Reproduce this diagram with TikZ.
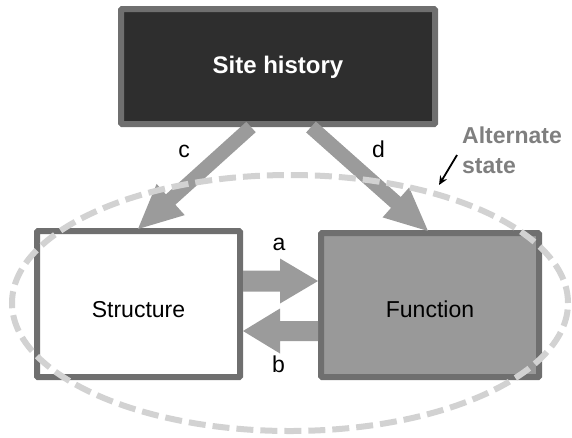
\documentclass[tikz,border=0pt]{standalone}
\usepackage{fontspec}
\setmainfont{Liberation Sans}
\usetikzlibrary{calc,arrows.meta}
\definecolor{boxborder}{HTML}{6F6F6F}
\definecolor{shfill}{HTML}{2E2E2E}
\definecolor{fnfill}{HTML}{999999}
\definecolor{arrowgray}{HTML}{9B9B9B}
\definecolor{ellgray}{HTML}{D2D2D2}
\definecolor{altgray}{HTML}{7F7F7F}
\newcommand\blockarrow[5]{%
  \coordinate (H) at ($(#2)!#5!(#1)$);
  \fill[arrowgray] ($(#1)!#3!90:(#2)$) -- ($(H)!#3!90:(#2)$) -- ($(H)!#4!90:(#2)$)
    -- (#2) -- ($(H)!#4!-90:(#2)$) -- ($(H)!#3!-90:(#2)$) -- ($(#1)!#3!-90:(#2)$) -- cycle;}
\begin{document}
\begin{tikzpicture}[x=1pt,y=-1pt,
  box/.style={draw=boxborder, line width=6pt, rectangle, inner sep=0pt, rounded corners=1pt},
  txt/.style={font=\fontsize{23}{28}\selectfont},
  lbl/.style={font=\fontsize{23}{28}\selectfont, anchor=base, inner sep=0pt},
  alt/.style={font=\fontsize{23}{28}\selectfont\bfseries, text=altgray, anchor=base west, inner sep=0pt},
  ell/.style={draw=ellgray, line width=6pt, dash pattern=on 17pt off 7pt}]
\useasboundingbox (0,0) rectangle (572,437);
% boxes
\node[box, fill=shfill, minimum width=314pt, minimum height=115pt, text=white,
      font=\fontsize{24}{28}\selectfont\bfseries, text height=17pt, text depth=4pt]
      (sh) at (278,66.5) {Site history\hspace{12pt}};
\node[box, fill=white, minimum width=203pt, minimum height=146pt, txt,
      text height=26pt, text depth=0pt] (st) at (138.5,304) {Structure};
\node[box, fill=fnfill, minimum width=218pt, minimum height=144pt, txt,
      text height=24pt, text depth=0pt] (fn) at (430,305) {Function};
% arrow end points
\coordinate (as) at (st.east |- 0,281);
\coordinate (at) at (fn.west |- 0,281);
\coordinate (bs) at (fn.west |- 0,331);
\coordinate (bt) at (st.east |- 0,331);
\coordinate (cs) at (251,127);
\coordinate (ct) at (138,229);
\coordinate (ds) at (311,127);
\coordinate (dt) at (428,231);
\blockarrow{as}{at}{10.5pt}{22.5pt}{38pt}
\blockarrow{bs}{bt}{10pt}{22.5pt}{37pt}
\blockarrow{cs}{ct}{7pt}{21pt}{44pt}
\blockarrow{ds}{dt}{7.3pt}{20pt}{43pt}
% labels
\node[lbl] (la) at (279,250) {a};
\node[lbl] (lb) at (278.5,372) {b};
\node[lbl] (lc) at (184,157) {c};
\node[lbl] (ld) at (378.5,157) {d};
% alternate state
\coordinate (ec) at (290,303);
\draw[ell] (ec) ellipse [x radius=278pt, y radius=128pt];
\node[alt] (alt1) at (462,143) {Alternate};
\node[alt] (alt2) at (462,173) {state};
\coordinate (ps) at (457,155);
\coordinate (pt) at (439,185);
\draw[line width=1.8pt, -{Stealth[length=9pt,width=8pt]}] (ps) -- (pt);
\end{tikzpicture}
\end{document}
